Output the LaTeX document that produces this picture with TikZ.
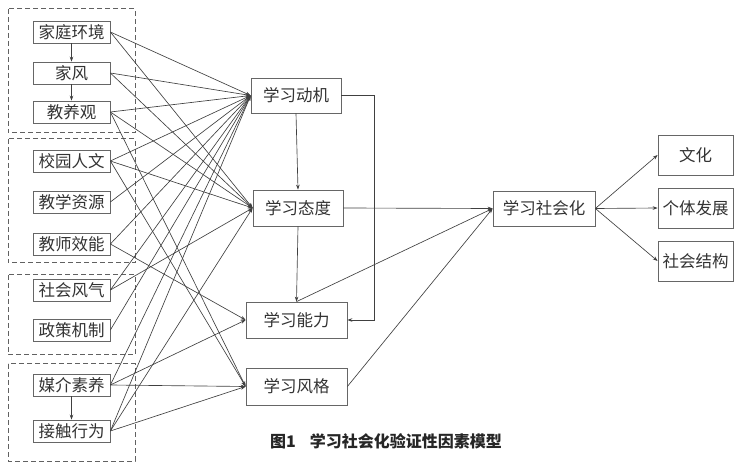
\documentclass[tikz,border=0pt]{standalone}
\usepackage{fontspec}
\newfontfamily\cjk{Noto Sans CJK SC}
\usetikzlibrary{arrows.meta}
\begin{document}
\begin{tikzpicture}[x=1pt,y=-1pt,
  box/.style={draw=black!60, line width=0.75pt, fill=white, inner sep=0pt, text=black!80, font=\cjk\fontsize{16.5}{17}\selectfont},
  lbox/.style={box, minimum width=77pt, minimum height=22pt},
  grp/.style={draw=black!62, dashed, dash pattern=on 5pt off 3pt, line width=1pt},
  con/.style={draw=black!75, line width=0.65pt, -{Stealth[length=5pt,width=3.6pt]}},
  lin/.style={draw=black!75, line width=0.65pt}]
\useasboundingbox (0,0) rectangle (742,470);
% dashed groups
\draw[grp] (8,9) rectangle (135,133);
\draw[grp] (8,139) rectangle (135,263);
\draw[grp] (8,275) rectangle (135,355);
\draw[grp] (8,364) rectangle (135,461);
% left nodes
\node[lbox] (l1) at (71.5,32) {家庭环境};
\node[lbox] (l2) at (71.5,73) {家风};
\node[lbox] (l3) at (71.5,112) {教养观};
\node[lbox] (l4) at (71.5,161) {校园人文};
\node[lbox] (l5) at (71.5,202) {教学资源};
\node[lbox] (l6) at (71.5,244) {教师效能};
\node[lbox] (l7) at (71.5,290) {社会风气};
\node[lbox] (l8) at (71.5,330) {政策机制};
\node[lbox] (l9) at (71.5,385) {媒介素养};
\node[lbox] (l10) at (71.5,431) {接触行为};
% middle nodes
\node[box, minimum width=90pt, minimum height=35pt] (A) at (296,95.5) {学习动机};
\node[box, minimum width=90pt, minimum height=36pt] (B) at (298,208) {学习态度};
\node[box, minimum width=101pt, minimum height=36pt] (C) at (296.5,320) {学习能力};
\node[box, minimum width=101pt, minimum height=37pt] (D) at (296.5,386.5) {学习风格};
\node[box, minimum width=102pt, minimum height=35pt] (S) at (544,208.5) {学习社会化};
\node[box, minimum width=75pt, minimum height=40pt] (R1) at (695.5,155) {文化};
\node[box, minimum width=75pt, minimum height=40pt] (R2) at (695.5,208) {个体发展};
\node[box, minimum width=75pt, minimum height=40pt] (R3) at (695.5,261) {社会结构};
% group-internal arrows
\draw[con] (l1.south) -- (l2.north);
\draw[con] (l2.south) -- (l3.north);
\draw[con] (l9.south) -- (l10.north);
% all to A
\foreach \s in {l1,l2,l3,l4,l5,l6,l7,l8,l9,l10}
  \draw[con] (\s.east) -- (A.west);
% to B
\foreach \s in {l1,l2,l3,l4,l7,l10}
  \draw[con] (\s.east) -- (B.west);
% to C
\foreach \s in {l6,l9}
  \draw[con] (\s.east) -- (C.west);
% to D
\foreach \s in {l3,l4,l9,l10}
  \draw[con] (\s.east) -- (D.west);
% middle structure
\draw[con] (A.south) -- (B.north);
\draw[con] (B.south) -- (C.north);
\coordinate (a1) at (374,95.5);
\coordinate (a2) at (374,320);
\draw[con] (A.east) -- (a1) -- (a2) -- (C.east);
\draw[con] (B.east) -- (S.west);
\draw[con] (C.north) -- (S.west);
\draw[con] (D.east) -- (S.west);
\draw[con] (S.east) -- (R1.west);
\draw[con] (S.east) -- (R2.west);
\draw[con] (S.east) -- (R3.west);
% caption
\node[text=black!85, font=\cjk\bfseries\fontsize{16}{18}\selectfont, anchor=west, inner sep=0pt] (cap) at (270,441) {图1\hspace{14pt}学习社会化验证性因素模型};
\end{tikzpicture}
\end{document}
